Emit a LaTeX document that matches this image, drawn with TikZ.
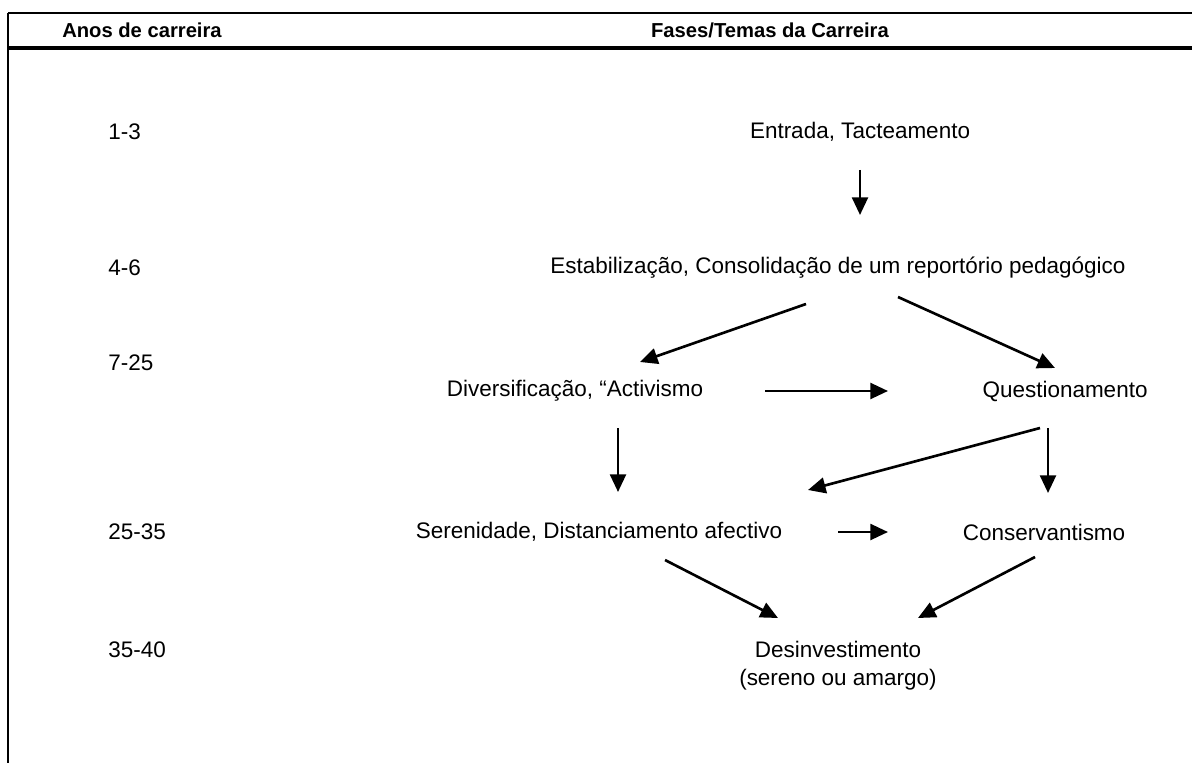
\documentclass[tikz,border=0pt]{standalone}
\usepackage{fontspec}
\setmainfont{Liberation Sans}
\usetikzlibrary{arrows.meta,calc}

\begin{document}
\begin{tikzpicture}[x=0.02cm,y=-0.02cm,
	every node/.style={inner sep=0pt, font=\fontsize{12.8}{16}\selectfont},
	head/.style={font=\fontsize{11.5}{14}\selectfont\bfseries},
	fase/.style={align=center},
	ano/.style={anchor=west},
	seta/.style={line width=1.5pt, -{Triangle[length=10pt,width=9pt]}}]
	\useasboundingbox (0,0) rectangle (1192,763);
	% moldura e cabecalho
	\draw[line width=1.7pt] (8,763) -- (8,13);
	\draw[line width=1pt] (8,13) -- (1192,13);
	\draw[line width=2pt] (8,48) -- (1192,48);
	\node[head] (hanos) at (142,30) {Anos de carreira};
	\node[head] (hfases) at (770,30) {Fases/Temas da Carreira};
	% anos
	\node[ano] (a1) at (108,132) {1-3};
	\node[ano] (a2) at (108,268) {4-6};
	\node[ano] (a3) at (108,363) {7-25};
	\node[ano] (a4) at (108,532) {25-35};
	\node[ano] (a5) at (108,650) {35-40};
	% fases
	\node[fase] (entrada) at (860,132) {Entrada, Tacteamento};
	\node[fase] (estab) at (838,268) {Estabilização, Consolidação de um reportório pedagógico};
	\node[fase] (divers) at (575,391) {Diversificação, “Activismo};
	\node[fase] (quest) at (1065,391) {Questionamento};
	\node[fase] (seren) at (599,532) {Serenidade, Distanciamento afectivo};
	\node[fase] (cons) at (1044,532) {Conservantismo};
	\node[fase] (desinv) at (838,666) {Desinvestimento\\(sereno ou amargo)};
	% setas
	\draw[seta] ($(entrada)+(0,38)$) -- ($(estab)+(22,-53)$);
	\draw[seta] ($(estab)+(-32,36)$) -- ($(divers)+(65,-29)$);
	\draw[seta] ($(estab)+(60,29)$) -- ($(quest)+(-10,-23)$);
	\draw[seta] ($(divers)+(190,0)$) -- ($(quest)+(-177,0)$);
	\draw[seta] ($(divers)+(43,37)$) -- ($(seren)+(19,-40)$);
	\draw[seta] ($(quest)+(-25,37)$) -- ($(seren)+(209,-42)$);
	\draw[seta] ($(quest)+(-17,37)$) -- ($(cons)+(4,-39)$);
	\draw[seta] ($(seren)+(239,0)$) -- ($(cons)+(-156,0)$);
	\draw[seta] ($(seren)+(66,28)$) -- ($(desinv)+(-60,-48)$);
	\draw[seta] ($(cons)+(-9,25)$) -- ($(desinv)+(80,-48)$);
\end{tikzpicture}
\end{document}
